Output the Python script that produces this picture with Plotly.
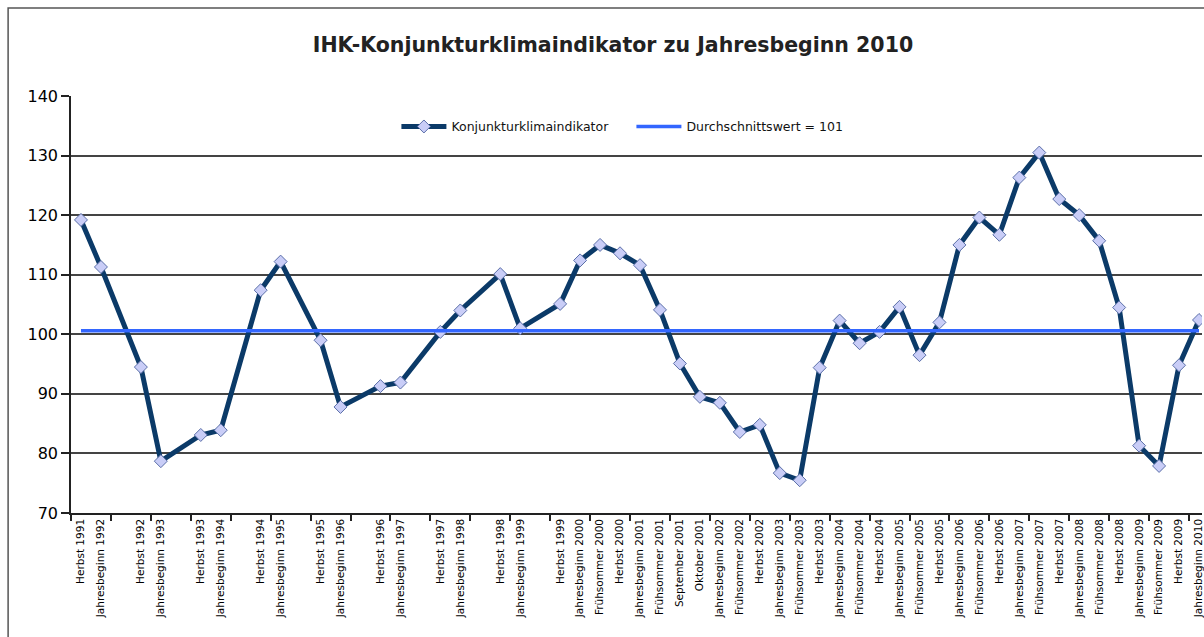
import plotly.graph_objects as go

categories = [
    "Herbst 1991", "Jahresbeginn 1992", "",
    "Herbst 1992", "Jahresbeginn 1993", "",
    "Herbst 1993", "Jahresbeginn 1994", "",
    "Herbst 1994", "Jahresbeginn 1995", "",
    "Herbst 1995", "Jahresbeginn 1996", "",
    "Herbst 1996", "Jahresbeginn 1997", "",
    "Herbst 1997", "Jahresbeginn 1998", "",
    "Herbst 1998", "Jahresbeginn 1999", "",
    "Herbst 1999", "Jahresbeginn 2000", "Frühsommer 2000", "Herbst 2000",
    "Jahresbeginn 2001", "Frühsommer 2001", "September 2001", "Oktober 2001",
    "Jahresbeginn 2002", "Frühsommer 2002", "Herbst 2002",
    "Jahresbeginn 2003", "Frühsommer 2003", "Herbst 2003",
    "Jahresbeginn 2004", "Frühsommer 2004", "Herbst 2004",
    "Jahresbeginn 2005", "Frühsommer 2005", "Herbst 2005",
    "Jahresbeginn 2006", "Frühsommer 2006", "Herbst 2006",
    "Jahresbeginn 2007", "Frühsommer 2007", "Herbst 2007",
    "Jahresbeginn 2008", "Frühsommer 2008", "Herbst 2008",
    "Jahresbeginn 2009", "Frühsommer 2009", "Herbst 2009",
    "Jahresbeginn 2010",
]

indicator = [
    119.2, 111.3, None,
    94.5, 78.7, None,
    83.1, 83.9, None,
    107.4, 112.2, None,
    99.0, 87.8, None,
    91.3, 91.9, None,
    100.4, 104.0, None,
    110.1, 101.0, None,
    105.1, 112.4, 115.0, 113.6,
    111.6, 104.1, 95.1, 89.5,
    88.5, 83.6, 84.8,
    76.7, 75.5, 94.4,
    102.3, 98.5, 100.4,
    104.6, 96.5, 102.0,
    115.0, 119.6, 116.7,
    126.3, 130.5, 122.7,
    120.0, 115.7, 104.5,
    81.3, 77.9, 94.8,
    102.4,
]

average_value = 100.6
series_names = ["Konjunkturklimaindikator", "Durchschnittswert = 101"]
title_text = "IHK-Konjunkturklimaindikator zu Jahresbeginn 2010"
y_ticks = [70, 80, 90, 100, 110, 120, 130, 140]

x_pos = list(range(len(categories)))
label_pos = [i for i, c in enumerate(categories) if c]
label_text = [c for c in categories if c]

fig = go.Figure()
fig.add_trace(go.Scatter(
    x=x_pos, y=indicator, mode="lines+markers", name=series_names[0],
    connectgaps=True,
    line=dict(color="#0B3A68", width=5),
    marker=dict(symbol="diamond", size=10, color="#C9CDF7",
                line=dict(color="#5B6FA8", width=1)),
))
fig.add_trace(go.Scatter(
    x=[x_pos[0], x_pos[-1]], y=[average_value, average_value], mode="lines",
    name=series_names[1], line=dict(color="#3366FF", width=3.5),
))

fig.update_layout(
    width=1204, height=637,
    margin=dict(l=71, r=0, t=96, b=124),
    paper_bgcolor="white", plot_bgcolor="white",
    font=dict(family="DejaVu Sans", color="#000000"),
    title=dict(text=title_text, x=613 / 1204, xanchor="center", y=1 - 45 / 637,
               yanchor="middle", xref="container", yref="container",
               font=dict(family="DejaVu Sans", size=20.5, color="#222222", weight="bold")),
    showlegend=True,
    legend=dict(orientation="h", x=0.4955, xanchor="center", y=0.926, yanchor="middle",
                bgcolor="rgba(0,0,0,0)", font=dict(size=12.5, color="#111111"),
                itemwidth=45, tracegroupgap=0, entrywidth=175),
    xaxis=dict(
        range=[-0.5, -0.5 + (1204 - 71) / 20],
        tickmode="array", tickvals=label_pos, ticktext=label_text,
        tickangle=-90, tickfont=dict(size=10.5, color="#000000"),
        ticklabeloverflow="allow",
        ticks="", showgrid=False, zeroline=False,
        showline=True, linecolor="#222222", linewidth=1.5,
        minor=dict(ticks="outside", tickmode="linear", tick0=-0.5, dtick=2,
                   ticklen=6, tickcolor="#222222", tickwidth=1.5, showgrid=False),
    ),
    yaxis=dict(
        range=[70, 140], tickmode="array", tickvals=y_ticks,
        tickfont=dict(size=16, color="#000000"),
        ticks="outside", ticklen=8, tickcolor="#222222", tickwidth=1.5,
        showgrid=True, gridcolor="#444444", gridwidth=1.5,
        zeroline=False, showline=True, linecolor="#222222", linewidth=1.5,
    ),
)

fig.add_shape(type="rect", xref="paper", yref="paper",
              x0=(8 - 71) / 1133, x1=1.05, y0=-0.5, y1=(513 - 8) / 417,
              line=dict(color="#555555", width=1.5), layer="below")

fig.write_html("out.html", config={"displayModeBar": False},
               post_script="document.body.style.margin='0';document.body.style.overflow='hidden';")
